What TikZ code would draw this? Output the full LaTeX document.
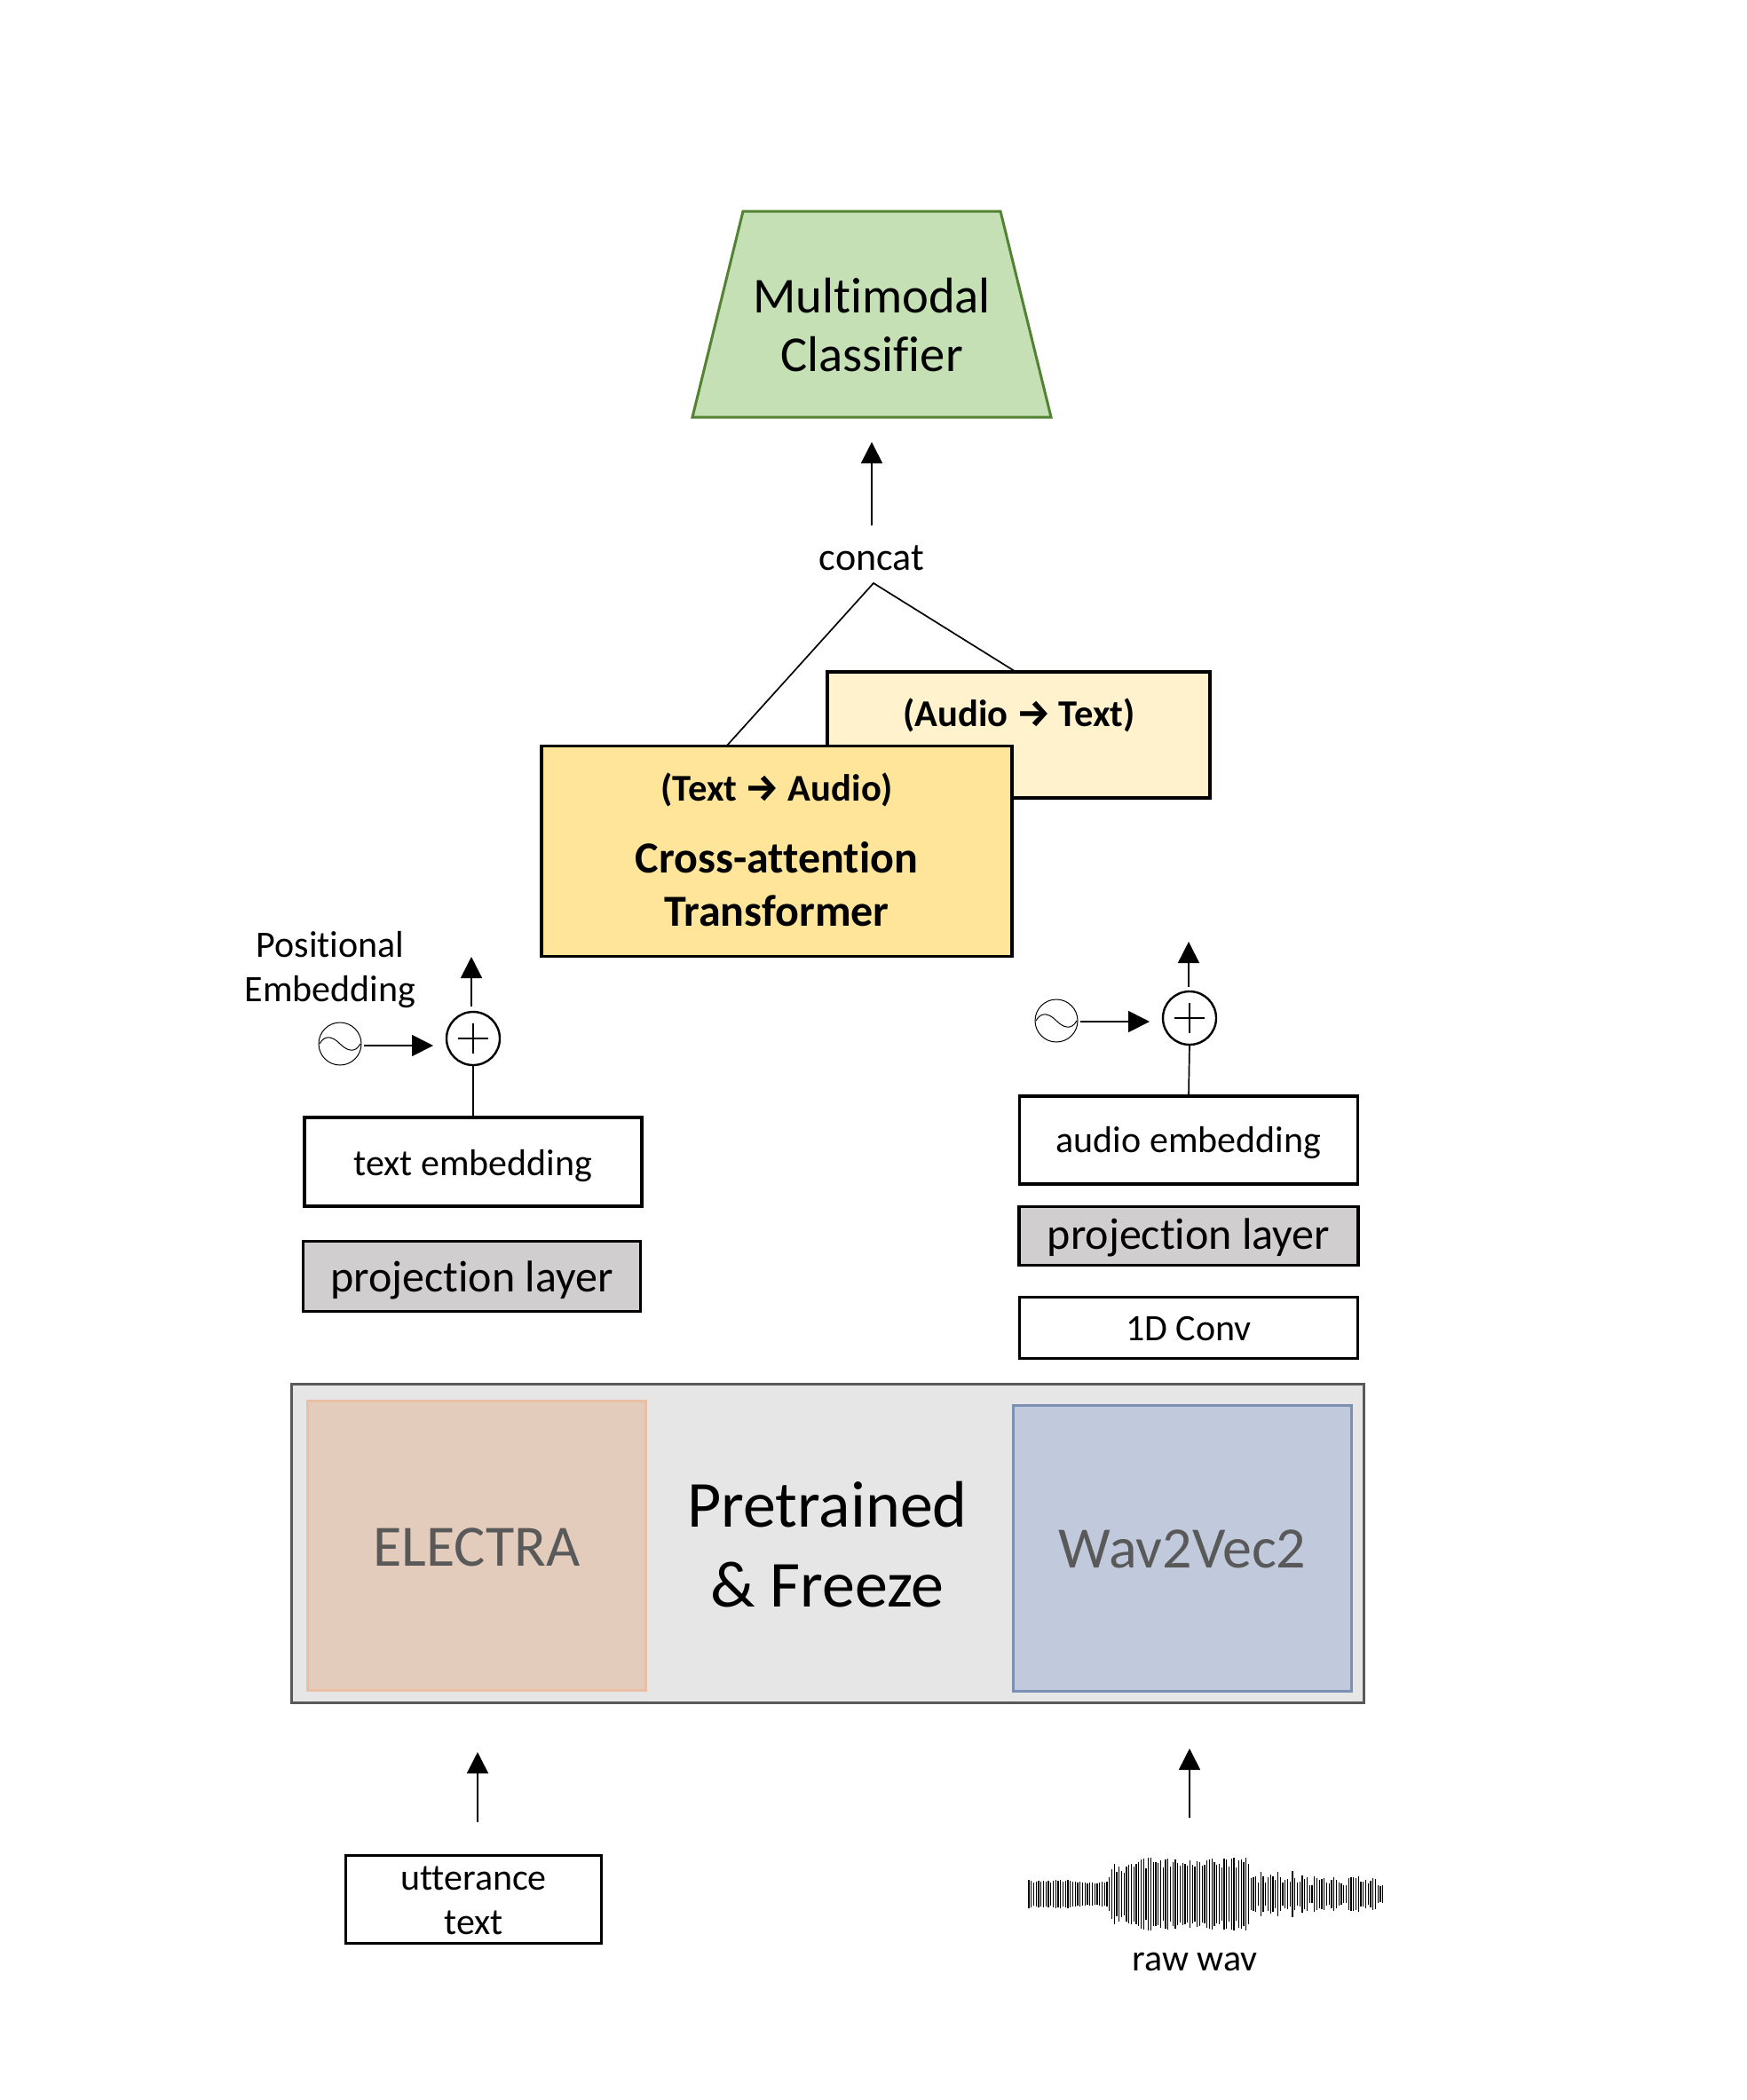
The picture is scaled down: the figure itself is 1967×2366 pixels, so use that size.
\documentclass[tikz,border=0pt]{standalone}
\usepackage{fontspec}
\setmainfont[Ligatures=NoCommon]{Carlito}
\newfontfamily\arrowfont{Fira Sans}
\usetikzlibrary{arrows.meta}
\definecolor{grayfill}{HTML}{D0CECE}
\definecolor{panel}{HTML}{E7E6E6}
\definecolor{panelline}{HTML}{595959}
\definecolor{elfill}{HTML}{E4CCBC}
\definecolor{elline}{HTML}{E9BFA6}
\definecolor{wvfill}{HTML}{C1CADC}
\definecolor{wvline}{HTML}{7C90B4}
\definecolor{clffill}{HTML}{C5E0B4}
\definecolor{clfline}{HTML}{548235}
\definecolor{yback}{HTML}{FFF2CC}
\definecolor{yfront}{HTML}{FFE599}
\newcommand{\dn}[2]{\raisebox{-#1}[\height][\depth]{#2}}
\newcommand{\boldarrow}{{\arrowfont\bfseries →}}
\tikzset{
  x=0.5pt,y=-0.5pt,
  every node/.style={inner sep=0pt,outer sep=0pt,text=black},
  boxed/.style={draw=black,line width=1.6pt,align=center},
  arr/.style={-{Triangle[length=12pt,width=12pt]},line width=0.85pt,black},
  plain/.style={line width=0.85pt,black},
  plusc/.style={circle,draw=black,line width=1.2pt,minimum size=30pt},
  sinec/.style={circle,draw=black,line width=0.5pt,minimum size=24pt},
  lab/.style={font=\fontsize{21}{25}\selectfont,align=center},
  small/.style={font=\fontsize{21}{25}\selectfont},
  concatlab/.style={font=\fontsize{22}{25}\selectfont},
  proj/.style={boxed,fill=grayfill,font=\fontsize{25}{28}\selectfont},
  big/.style={font=\fontsize{37}{45}\selectfont,align=center},
  inner/.style={font=\fontsize{33}{36}\selectfont,text=panelline},
  boldsm/.style={font=\fontsize{21.3}{24}\selectfont\bfseries},
  boldbig/.style={font=\fontsize{25}{30}\selectfont\bfseries,align=center},
}
\newcommand{\sinewave}[1]{%
  \begin{scope}[shift={(#1.center)}]
    \draw[line width=0.5pt] (-23,0) .. controls (-17,-11) and (-8,-8) .. (0,0)
      .. controls (8,8) and (17,11) .. (23,0);
  \end{scope}}
\newcommand{\plusmark}[1]{%
  \begin{scope}[shift={(#1.center)}]
    \draw[line width=0.9pt] (-17,0) -- (17,0) (0,-17) -- (0,17);
  \end{scope}}
\begin{document}
\begin{tikzpicture}
\useasboundingbox (0,0) rectangle (1967,2366);
% classifier
\draw[fill=clffill,draw=clfline,line width=1.5pt] (837,238) -- (1127,238) -- (1184,470) -- (780,470) -- cycle;
\node[font=\fontsize{28.3}{33}\selectfont,align=center] (clf) at (982,366) {Multimodal\\Classifier};
\coordinate (clfin) at (982,498);
\coordinate (concout) at (982,592);
\draw[arr] (concout) -- (clfin);
\node[concatlab] (conc) at (982,629) {concat};
% concat lines
\coordinate (apex) at (984,657);
\coordinate (frontin) at (818,841);
\coordinate (backin) at (1146,758);
\draw[plain] (frontin) -- (apex) -- (backin);
% transformer
\node[boxed,fill=yback,minimum width=215.5pt,minimum height=71pt] (back) at (1147.5,828) {};
\node[boldsm] (backt) at (1148,806) {(Audio \boldarrow{} Text)};
\node[boxed,fill=yfront,minimum width=265pt,minimum height=118.5pt] (front) at (875,959) {};
\node[boldsm] (frontt) at (875,890) {(Text \boldarrow{} Audio)};
\node[boldbig] (frontb) at (875,996) {Cross-attention\\Transformer};
% left stack
\node[lab] (pos) at (372,1093) {Positional\\Embedding};
\node[sinec] (s1) at (383,1176) {};
\sinewave{s1}
\node[plusc] (p1) at (533,1170) {};
\plusmark{p1}
\coordinate (p1up) at (531,1134);
\coordinate (p1top) at (531,1078);
\draw[arr] (p1up) -- (p1top);
\coordinate (s1out) at (410,1178);
\coordinate (p1in) at (488,1178);
\draw[arr] (s1out) -- (p1in);
\node[boxed,fill=white,small,minimum width=190pt,minimum height=50pt] (te) at (533,1309) {\dn{2.2pt}{text embedding}};
\draw[plain] (p1.south) -- (te.north);
\node[proj,minimum width=190pt,minimum height=39.5pt] (pl) at (531.5,1438) {\dn{2pt}{projection layer}};
% right stack
\node[sinec] (s2) at (1190,1150) {};
\sinewave{s2}
\node[plusc] (p2) at (1340,1147) {};
\plusmark{p2}
\coordinate (p2up) at (1339,1112);
\coordinate (p2top) at (1339,1061);
\draw[arr] (p2up) -- (p2top);
\coordinate (s2out) at (1217,1151);
\coordinate (p2in) at (1295,1151);
\draw[arr] (s2out) -- (p2in);
\node[boxed,fill=white,small,minimum width=190.5pt,minimum height=49.5pt] (ae) at (1339,1284.5) {\dn{1.5pt}{audio embedding}};
\draw[plain] (p2.south) -- (ae.north);
\node[proj,minimum width=191pt,minimum height=33pt] (pr) at (1339,1392.5) {\dn{1pt}{projection layer}};
\node[boxed,fill=white,small,minimum width=190.5pt,minimum height=34.5pt] (conv) at (1339,1496) {\dn{.5pt}{1D Conv}};
% pretrained
\node[draw=panelline,fill=panel,line width=1.5pt,minimum width=604pt,minimum height=179.5pt] (panelbox) at (932,1738.5) {};
\node[draw=elline,fill=elfill,line width=1.5pt,minimum width=190.5pt,minimum height=163pt,inner,text=panelline] (el) at (537,1741.5) {\dn{.7pt}{ELECTRA}};
\node[draw=wvline,fill=wvfill,line width=1.5pt,minimum width=190.5pt,minimum height=161pt,inner,text=panelline] (wv) at (1332,1744) {\dn{.7pt}{Wav2Vec2}};
\node[big] (pf) at (932,1740) {Pretrained\\\& Freeze};
% inputs
\node[boxed,fill=white,lab,minimum width=144pt,minimum height=49.5pt] (ut) at (533.5,2140) {\dn{.7pt}{utterance}\\\dn{.7pt}{text}};
\coordinate (utup) at (538,2053);
\coordinate (eltop) at (538,1974);
\draw[arr] (utup) -- (eltop);
\coordinate (wavup) at (1340,2048);
\coordinate (wvtop) at (1340,1970);
\draw[arr] (wavup) -- (wvtop);
% waveform
\foreach \h [count=\i from 0] in {16,15,13,14,15,14,15,14,15,13,15,16,15,16,14,15,16,15,14,14,13,14,13,13,12,13,13,12,12,13,
14,13,14,19,28,34,25,31,26,24,31,33,34,31,34,36,39,40,29,41,41,36,36,35,38,30,39,40,31,36,39,35,32,35,34,32,38,33,31,37,36,32,33,38,39,40,36,33,34,30,40,39,31,40,41,30,38,39,36,41,34,18,
19,20,13,25,20,13,19,22,20,16,25,19,13,16,17,14,26,18,13,14,21,17,19,10,10,20,18,16,17,18,13,12,16,19,16,13,12,10,10,18,19,19,18,20,14,14,16,12,15,18,17,10,9,10}{
  \pgfmathsetmacro{\xx}{1159+\i*2.75}
  \draw[line width=0.7pt] (\xx,{2134-\h}) -- (\xx,{2134+\h});
}
\node[small] (raw) at (1346,2210) {raw wav};
\end{tikzpicture}
\end{document}
